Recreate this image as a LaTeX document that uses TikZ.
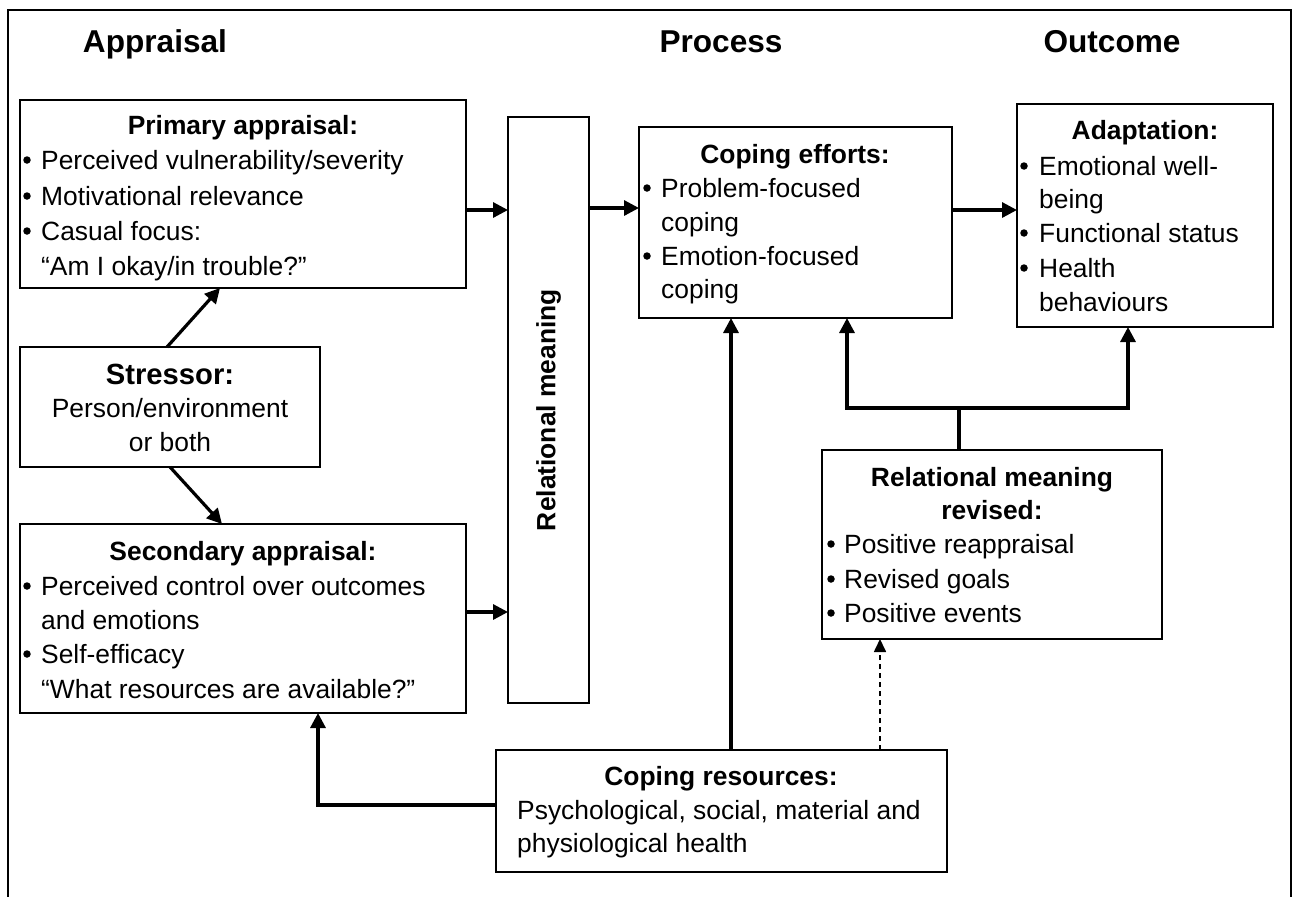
\documentclass[tikz,border=0pt]{standalone}
\usepackage{fontspec}
\setmainfont{Liberation Sans}
\usetikzlibrary{arrows.meta}
\newcommand\bodyf{\fontsize{26.4}{35}\selectfont}
\newcommand\headf{\fontsize{31.6}{38}\selectfont\bfseries}
\newcommand\strf{\fontsize{29.2}{35}\selectfont\bfseries}
\newcommand\mkbox[5]{\node[box, minimum width={#4-#2}, minimum height={#5-#3}] (#1) at ({(#2+#4)/2},{(#3+#5)/2}) {};}
\newcommand\bl[3]{\node[bul] (#1) at (#2,{#3-9}) {};}
\begin{document}
\begin{tikzpicture}[x=1pt,y=-1pt,
  box/.style={draw, line width=2.6pt, inner sep=0pt, outer sep=0pt},
  txt/.style={anchor=base west, inner sep=0pt, font=\bodyf},
  ctr/.style={anchor=base, inner sep=0pt, font=\bodyf},
  ttl/.style={anchor=base, inner sep=0pt, font=\bodyf\bfseries},
  hd/.style={anchor=base, inner sep=0pt, font=\headf},
  bul/.style={circle, fill, draw=none, inner sep=0pt, minimum size=7.5pt},
  arr/.style={line width=3.2pt, -{Triangle[length=15pt,width=15pt]}},
  darr/.style={line width=1.7pt, dash pattern=on 5pt off 4pt, -{Triangle[length=13pt,width=12pt]}}]
\useasboundingbox (0,0) rectangle (1296,897);
\draw[line width=2.2pt] (8,897) -- (8,10) -- (1291,10) -- (1291,897);

% headings
\node[hd] (h1) at (155,52) {Appraisal};
\node[hd] (h2) at (721,52) {Process};
\node[hd] (h3) at (1112,52) {Outcome};

% boxes
\mkbox{pri}{20}{100}{466}{288}
\mkbox{str}{20}{347}{320}{467}
\mkbox{sec}{20}{524}{466}{713}
\mkbox{rm}{508}{117}{589}{703}
\mkbox{ce}{639}{127}{952}{318}
\mkbox{ad}{1017}{104}{1273}{327}
\mkbox{rev}{822}{450}{1162}{639}
\mkbox{cr}{496}{750}{947}{872}

% primary appraisal
\node[ttl] (p0) at (243,134) {Primary appraisal:};
\bl{pb1}{27}{169}
\node[txt] (p1) at (41,169) {Perceived vulnerability/severity};
\bl{pb2}{27}{205}
\node[txt] (p2) at (41,205) {Motivational relevance};
\bl{pb3}{27}{240}
\node[txt] (p3) at (41,240) {Casual focus:};
\node[txt] (p4) at (41,275) {“Am I okay/in trouble?”};

% stressor
\node[anchor=base, inner sep=0pt, font=\strf] (s0) at (170,384) {Stressor:};
\node[ctr] (s1) at (170,417) {Person/environment};
\node[ctr] (s2) at (170,451) {or both};

% secondary appraisal
\node[ttl] (q0) at (243,560) {Secondary appraisal:};
\bl{qb1}{27}{595}
\node[txt] (q1) at (41,595) {Perceived control over outcomes};
\node[txt] (q2) at (41,629) {and emotions};
\bl{qb3}{27}{663}
\node[txt] (q3) at (41,663) {Self-efficacy};
\node[txt] (q4) at (41,698) {“What resources are available?”};

% relational meaning
\node[inner sep=0pt, font=\bodyf\bfseries, rotate=90] (r0) at (548.5,410) {Relational meaning};

% coping efforts
\node[ttl] (c0) at (795,163) {Coping efforts:};
\bl{cb1}{647}{197}
\node[txt] (c1) at (661,197) {Problem-focused};
\node[txt] (c2) at (661,231) {coping};
\bl{cb3}{647}{265}
\node[txt] (c3) at (661,265) {Emotion-focused};
\node[txt] (c4) at (661,298) {coping};

% adaptation
\node[ttl] (a0) at (1145,139) {Adaptation:};
\bl{ab1}{1024}{175}
\node[txt] (a1) at (1039,175) {Emotional well-};
\node[txt] (a2) at (1039,208) {being};
\bl{ab3}{1024}{242}
\node[txt] (a3) at (1039,242) {Functional status};
\bl{ab4}{1024}{277}
\node[txt] (a4) at (1039,277) {Health};
\node[txt] (a5) at (1039,311) {behaviours};

% relational meaning revised
\node[ttl] (v0) at (992,486) {Relational meaning};
\node[ttl] (v1) at (992,519) {revised:};
\bl{vb2}{831}{553}
\node[txt] (v2) at (844,553) {Positive reappraisal};
\bl{vb3}{831}{588}
\node[txt] (v3) at (844,588) {Revised goals};
\bl{vb4}{831}{622}
\node[txt] (v4) at (844,622) {Positive events};

% coping resources
\node[ttl] (k0) at (721,785) {Coping resources:};
\node[txt] (k1) at (517,819) {Psychological, social, material and};
\node[txt] (k2) at (517,852) {physiological health};

% helper coordinates
\coordinate (y210) at (0,210);
\coordinate (y208) at (0,208);
\coordinate (y612) at (0,612);
\coordinate (y805) at (0,805);
\coordinate (xa) at (167,0);
\coordinate (xb) at (220,0);
\coordinate (xc) at (170,0);
\coordinate (xd) at (222,0);
\coordinate (x318) at (318,0);
\coordinate (x731) at (731,0);
\coordinate (x880) at (880,0);
\coordinate (j) at (959,408);
\coordinate (jl) at (847,408);
\coordinate (jr) at (1128,408);

% connectors
\draw[arr] (pri.east |- y210) -- (rm.west |- y210);
\draw[arr] (rm.east |- y208) -- (ce.west |- y208);
\draw[arr] (ce.east |- y210) -- (ad.west |- y210);
\draw[arr] (sec.east |- y612) -- (rm.west |- y612);
\draw[arr] (str.north -| xa) -- (pri.south -| xb);
\draw[arr] (str.south -| xc) -- (sec.north -| xd);
\draw[arr] (cr.west |- y805) -| (sec.south -| x318);
\draw[arr] (cr.north -| x731) -- (ce.south -| x731);
\draw[darr] (cr.north -| x880) -- (rev.south -| x880);
\draw[line width=3.2pt] (rev.north -| j) -- (j);
\draw[line width=3.2pt, {Triangle[length=15pt,width=15pt]}-{Triangle[length=15pt,width=15pt]}] (ce.south -| jl) -- (jl) -- (jr) -- (ad.south -| jr);
\end{tikzpicture}
\end{document}
